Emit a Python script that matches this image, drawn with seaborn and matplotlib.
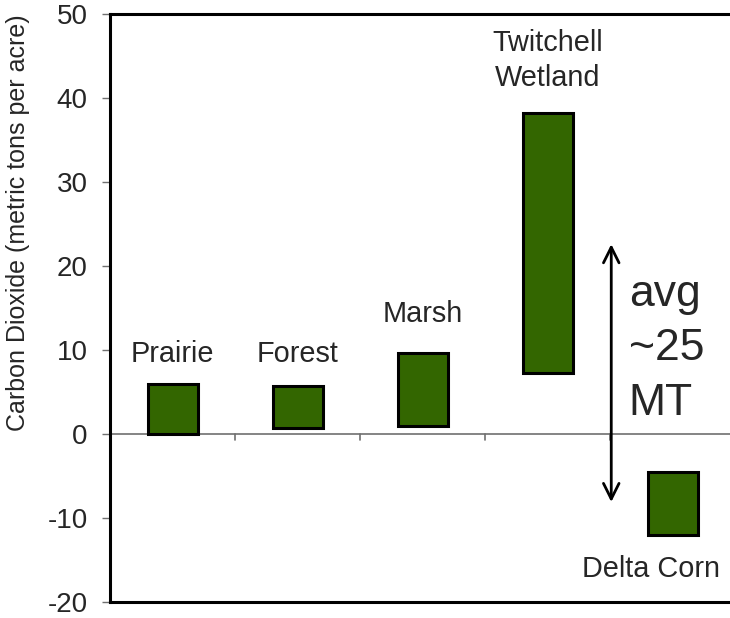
import matplotlib
matplotlib.use("Agg")
import matplotlib.pyplot as plt
import seaborn as sns
import pandas as pd

# Carbon dioxide ranges per land use (metric tons per acre)
categories = ["Prairie", "Forest", "Marsh", "Twitchell Wetland", "Delta Corn"]
range_low = [0.0, 0.7, 1.0, 7.3, -12.0]
range_high = [6.0, 5.7, 9.7, 38.2, -4.5]

y_ticks = [-20, -10, 0, 10, 20, 30, 40, 50]

sns.set_theme(style="white")
plt.rcParams["font.family"] = ["Liberation Sans", "DejaVu Sans"]

df = pd.DataFrame({
    "category": categories,
    "span": [h - l for h, l in zip(range_high, range_low)],
    "low": range_low,
})

fig = plt.figure(figsize=(7.3, 6.18), dpi=100)
ax = fig.add_axes([110 / 730, 16 / 618, 625 / 730, 588 / 618])

# floating bars: each bar starts at its low value
sns.barplot(data=df, x="category", y="span", bottom=df["low"].values,
            color="#336600", saturation=1, width=0.4,
            edgecolor="black", linewidth=2.2, ax=ax, zorder=3)

ax.set_xlim(-0.5, 4.5)
ax.set_ylim(-20, 50)
ax.set_yticks(y_ticks)
ax.set_yticklabels([str(t) for t in y_ticks], fontsize=20)
ax.tick_params(axis="y", direction="out", length=6, width=1, color="#707070",
               left=True, pad=10)
ax.set_xticks([])
ax.set_xlabel("")
ax.set_ylabel("")

for side in ["left", "top", "bottom"]:
    ax.spines[side].set_visible(True)
    ax.spines[side].set_color("black")
    ax.spines[side].set_linewidth(2.2)
ax.spines["right"].set_visible(False)

# category axis drawn at zero, with ticks between categories
ax.axhline(0, color="#707070", lw=1.2, zorder=2)
for b in [0.5, 1.5, 2.5, 3.5]:
    ax.plot([b, b], [0, -0.75], color="#707070", lw=1.2, zorder=2,
            clip_on=False)

label_fs = 20.8
ax.text(0, 8.6, "Prairie", ha="center", va="baseline", fontsize=label_fs)
ax.text(1, 8.6, "Forest", ha="center", va="baseline", fontsize=label_fs)
ax.text(2, 13.3, "Marsh", ha="center", va="baseline", fontsize=label_fs)
ax.text(3, 41.4, "Twitchell\nWetland", ha="center", va="baseline",
        fontsize=label_fs, linespacing=1.35)
ax.text(3.83, -17.0, "Delta Corn", ha="center", va="baseline",
        fontsize=label_fs)

# average difference arrow
ax.annotate("", xy=(3.51, 22.6), xytext=(3.51, -8.1),
            arrowprops=dict(arrowstyle="<->", color="black", lw=2,
                            mutation_scale=28, shrinkA=0, shrinkB=0))
ax.text(3.65, 2.3, "avg\n~25\nMT", ha="left", va="baseline", fontsize=32,
        linespacing=1.42)

fig.text(18 / 730, 1 - 223 / 618, "Carbon Dioxide (metric tons per acre)",
         rotation=90, ha="center", va="center", fontsize=18)

fig.savefig("out.png", dpi=100)
